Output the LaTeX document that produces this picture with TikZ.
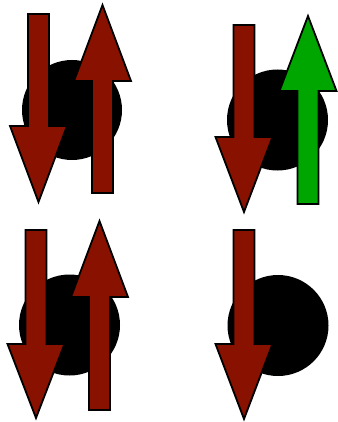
\documentclass[tikz,border=0pt]{standalone}
\usepackage{tikz}
\usetikzlibrary{calc}
\definecolor{SpinRed}{HTML}{881100}
\definecolor{SpinGreen}{HTML}{00A600}
\tikzset{spin/.style={draw=black,line width=1.8pt,line join=miter}}
% #1 colour, #2 x, #3 tail y, #4 head base y, #5 tip y
\newcommand{\spinarrow}[5]{%
  \filldraw[spin,fill=#1] ({#2-10.5},#3) -- ({#2+10.5},#3) -- ({#2+10.5},#4)
    -- ({#2+28.5},#4) -- (#2,#5) -- ({#2-28.5},#4) -- ({#2-10.5},#4) -- cycle;}

\begin{document}
\begin{tikzpicture}[x=1pt,y=-1pt]
        \useasboundingbox (0,0) rectangle (337,422);
        % atoms
        \fill[black] (72,110) circle (50);
        \fill[black] (277.5,120) circle (50.5);
        \fill[black] (69.5,325) circle (50.5);
        \fill[black] (278,325.5) circle (50.5);
        % spins
        \spinarrow{SpinRed}{38.5}{14}{126}{202}
        \spinarrow{SpinRed}{102.5}{193}{81}{5}
        \spinarrow{SpinRed}{244}{25}{137}{212}
        \spinarrow{SpinGreen}{308}{204}{91}{16}
        \spinarrow{SpinRed}{36}{230}{344}{418}
        \spinarrow{SpinRed}{99.5}{410}{297}{221}
        \spinarrow{SpinRed}{244}{230}{344}{419}
      \end{tikzpicture}
\end{document}
